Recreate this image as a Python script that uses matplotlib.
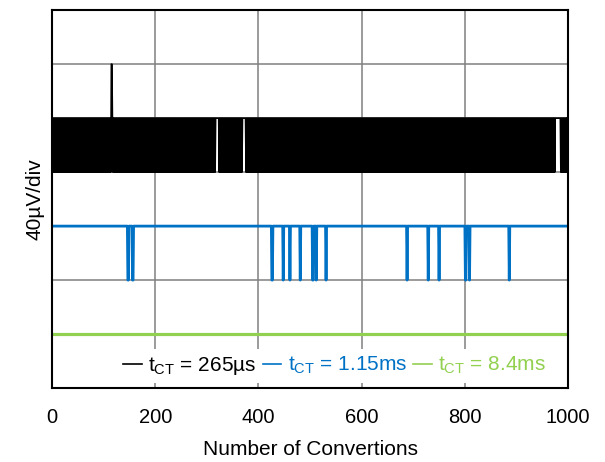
"""
Conversion noise at three conversion times (stacked traces, 40uV/div).

- Writes: out.png
"""

import numpy as np
import matplotlib.pyplot as plt

plt.rcParams["font.family"] = ["Liberation Sans", "DejaVu Sans"]

# trace levels in divisions (one division = 40uV)
n_samples = 1000
black_low, black_high = 4, 5
black_hold_spans = [(317, 324), (369, 375), (976, 986)]   # code held at high level
black_spike_samples = [115, 116]
black_spike_level = 6

blue_level = 3
blue_dip_level = 2
blue_dips = [147, 148, 156, 157, 426, 427, 448, 461, 481, 505, 506, 512,
             531, 688, 729, 750, 801, 802, 809, 886]

green_level = 1

labels = ["265µs", "1.15ms", "8.4ms"]
colors = ["black", "#0072C6", "#92D050"]
x_ticks = [0, 200, 400, 600, 800, 1000]


def build_traces():
    x = np.arange(n_samples)
    # black toggles between two adjacent codes every conversion
    black = np.where(x % 2 == 0, black_low, black_high).astype(float)
    for a, b in black_hold_spans:
        black[a:b] = black_high
    black[black_spike_samples] = black_spike_level

    blue = np.full(n_samples, blue_level, dtype=float)
    blue[blue_dips] = blue_dip_level

    green = np.full(n_samples, green_level, dtype=float)
    return x, black, blue, green


def main():
    x, black, blue, green = build_traces()

    fig = plt.figure(figsize=(6.05, 4.62), dpi=100)
    ax = fig.add_axes([0.086, 0.160, 0.853, 0.818])

    ax.plot(x, black, color=colors[0], lw=1.2, label=r"$\mathregular{t_{CT}}$ = " + labels[0])
    ax.plot(x, blue, color=colors[1], lw=2.0, label=r"$\mathregular{t_{CT}}$ = " + labels[1])
    ax.plot(x, green, color=colors[2], lw=2.3, label=r"$\mathregular{t_{CT}}$ = " + labels[2])

    ax.set_xlim(0, 1000)
    ax.set_ylim(0, 7)
    ax.set_xticks(x_ticks)
    ax.set_yticks(range(0, 8))
    ax.set_yticklabels([])
    ax.tick_params(axis="y", length=0)
    ax.tick_params(axis="x", direction="in", length=0, pad=14, labelsize=14.5)
    ax.grid(True, color="#808080", lw=1.1)
    ax.set_axisbelow(True)
    for s in ax.spines.values():
        s.set_linewidth(1.5)

    ax.set_xlabel("Number of Convertions", fontsize=15, labelpad=10)
    ax.set_ylabel("40µV/div", fontsize=15, labelpad=2)

    leg = ax.legend(loc="lower right", bbox_to_anchor=(0.99, -0.015), ncol=3,
                    fontsize=15, handlelength=0.9, handletextpad=0.3,
                    columnspacing=0.3, frameon=True, fancybox=False,
                    borderpad=0.3)
    leg.get_frame().set_facecolor("white")
    leg.get_frame().set_edgecolor("none")
    leg.get_frame().set_alpha(1.0)
    for txt, c in zip(leg.get_texts(), colors):
        txt.set_color(c)
    for h in leg.get_lines():
        h.set_linewidth(1.2)

    fig.savefig("out.png", dpi=100)
    plt.close(fig)


if __name__ == "__main__":
    main()
